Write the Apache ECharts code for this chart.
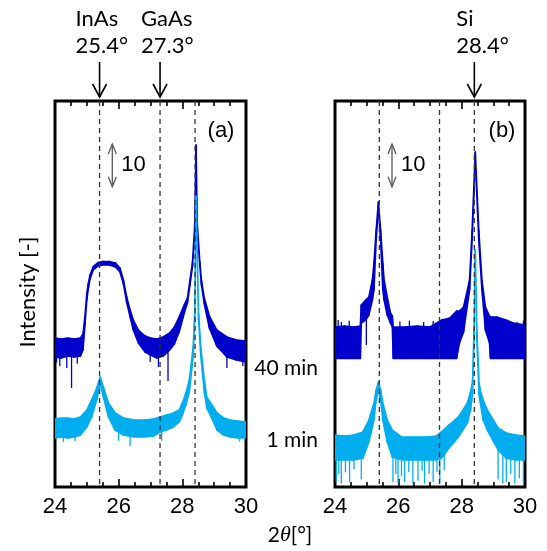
<!DOCTYPE html>
<html>
<head>
<meta charset="utf-8">
<script src="https://cdn.jsdelivr.net/npm/echarts@6/dist/echarts.min.js"></script>
<style>
  html, body { margin: 0; padding: 0; background: #fff; }
  #chart { width: 547px; height: 551px; }
</style>
</head>
<body>
<div id="chart"></div>
<script>
// ---- XRD scans, 2θ in degrees; intensities are the upper / lower edge of the noisy trace ----

// panel (a), 40 min
const a40X  = [24.0, 24.2, 24.4, 24.6, 24.8, 24.88, 24.94, 25.0, 25.05, 25.1, 25.2, 25.35, 25.5, 25.7, 25.9, 26.04, 26.15, 26.25, 26.36, 26.46, 26.62, 26.83, 27.0, 27.2, 27.4, 27.6, 27.75, 27.9, 28.07, 28.16, 28.24, 28.32, 28.39, 28.43, 28.47, 28.55, 28.6, 28.69, 28.85, 29.08, 29.4, 29.7, 30.0];
const a40Hi = [2980, 2820, 2980, 2820, 2980, 3690, 9350, 33400, 57100, 87700, 137000, 171000, 181000, 181000, 167000, 128000, 67000, 27400, 13400, 7830, 4580, 3320, 2980, 2820, 3140, 3900, 5370, 9200, 18500, 25500, 67000, 176000, 1280000, 94000000, 1280000, 176000, 67000, 25500, 9700, 4580, 3140, 2680, 2540];
const a40Lo = [1070, 1020, 1130, 1070, 1130, 1560, 5980, 22900, 43600, 70700, 115000, 142000, 150000, 150000, 135000, 103000, 54100, 20600, 9200, 4580, 2280, 1410, 1200, 1020, 1130, 1560, 2160, 4110, 12000, 19500, 51300, 142000, 881000, 64700000, 881000, 142000, 51300, 18500, 5100, 1940, 1070, 915, 821];
const a40SpikeX = [24.05, 24.15, 24.37, 24.52, 24.7, 26.99, 27.25, 27.55, 29.4, 29.9];
const a40SpikeY = [800, 663, 595, 203, 750, 821, 628, 296, 595, 663];

// panel (a), 1 min
const a1X  = [24.0, 24.2, 24.4, 24.6, 24.8, 25.0, 25.15, 25.31, 25.42, 25.52, 25.68, 25.89, 26.15, 26.5, 26.8, 27.1, 27.3, 27.5, 27.72, 27.9, 28.0, 28.11, 28.22, 28.34, 28.39, 28.43, 28.51, 28.58, 28.69, 28.77, 28.95, 29.09, 29.3, 29.5, 29.75, 30.0];
const a1Hi = [38.5, 40.6, 40.6, 38.5, 42.9, 62.4, 107, 203, 367, 215, 90.8, 53.1, 40.6, 36.5, 36.5, 38.5, 42.9, 47.7, 53.1, 62.4, 90.8, 155, 313, 1840, 11400, 6100000, 11400, 1840, 313, 125, 77.4, 53.1, 40.6, 36.5, 34.6, 32.8];
const a1Lo = [13.9, 14.7, 13.9, 14.7, 16.3, 25.1, 42.9, 107, 252, 125, 42.9, 21.3, 16.3, 14.7, 14.7, 15.5, 19.2, 21.3, 25.1, 32.8, 47.7, 81.6, 164, 1130, 7830, 3960000, 7830, 1130, 164, 69.5, 36.5, 21.3, 16.3, 14.7, 13.9, 13.9];
const a1SpikeX = [24.26, 24.63, 26.0, 26.36, 27.35, 29.8];
const a1SpikeY = [11.2, 11.8, 12, 9.0, 12, 11.5];

// panel (b), 40 min
const b40X  = [24.0, 24.3, 24.6, 24.8, 24.83, 24.97, 25.07, 25.18, 25.23, 25.3, 25.37, 25.44, 25.51, 25.55, 25.65, 25.75, 25.81, 25.84, 26.2, 26.6, 27.0, 27.37, 27.63, 27.84, 27.93, 28.06, 28.25, 28.33, 28.43, 28.54, 28.64, 28.75, 28.88, 28.91, 29.1, 29.4, 29.63, 30.0];
const b40Hi = [5370, 5670, 5370, 5670, 17500, 22900, 26900, 67000, 167000, 982000, 4410000, 982000, 167000, 67000, 26900, 11400, 9700, 5370, 5370, 5670, 5370, 7830, 8710, 12700, 12700, 15700, 67000, 982000, 64700000, 982000, 67000, 15700, 9700, 9200, 9200, 7830, 6660, 5980];
const b40Lo = [1000, 1000, 1000, 1000, 6660, 7830, 10200, 22900, 39200, 574000, 3200000, 574000, 39200, 22900, 10200, 6660, 5370, 1000, 1000, 1000, 1000, 1000, 1000, 1000, 2280, 4110, 39200, 574000, 42100000, 574000, 39200, 4580, 2280, 1000, 1000, 1000, 1000, 1000];
const b40SpikeX = [24.1, 24.2, 24.45, 24.99, 26.05, 26.35, 26.8, 27.1, 29.3, 29.75, 29.95];
const b40SpikeY = [7830, 7000, 7500, 2050, 7200, 7600, 7000, 7400, 8200, 7000, 7600];

// panel (b), 1 min
const b1X  = [24.0, 24.3, 24.6, 24.88, 25.07, 25.23, 25.3, 25.37, 25.44, 25.51, 25.65, 25.81, 26.1, 26.5, 26.9, 27.2, 27.36, 27.6, 27.9, 28.18, 28.28, 28.34, 28.39, 28.43, 28.48, 28.55, 28.6, 28.68, 28.81, 29.15, 29.41, 29.7, 30.0];
const b1Hi = [16.3, 15.5, 16.3, 19.2, 36.5, 90.8, 183, 281, 183, 90.8, 36.5, 21.3, 14.7, 14.7, 14.7, 15.5, 19.2, 27.9, 42.9, 90.8, 164, 266, 4580, 336000, 4580, 266, 164, 107, 62.4, 23.8, 18.2, 16.3, 15.5];
const b1Lo = [4.3, 4.3, 4.3, 4.7, 11.2, 36.5, 107, 183, 107, 36.5, 11.2, 5.0, 4.3, 4.3, 4.3, 4.3, 4.7, 8.1, 14.7, 31, 62.4, 140, 2680, 218000, 2680, 140, 81.6, 36.5, 21.3, 7.3, 4.7, 4.3, 4.3];
const b1SpikeX = [24.04, 24.12, 24.2, 24.33, 24.46, 24.6, 24.83, 25.83, 25.92, 25.99, 26.1, 26.2, 26.33, 26.46, 26.62, 26.75, 26.83, 26.97, 27.1, 27.22, 27.31, 27.45, 29.15, 29.3, 29.41, 29.55, 29.68, 29.82, 29.95];
const b1SpikeY = [1.3, 2.0, 1.2, 2.2, 1.3, 2.6, 1.5, 1.3, 2.0, 1.2, 1.8, 1.3, 2.2, 1.2, 1.4, 2.4, 1.2, 2.0, 1.3, 2.2, 1.2, 2.5, 1.5, 1.2, 1.3, 2.0, 1.2, 1.6, 1.2];

// reference peak positions
const refX      = [25.4, 27.3, 28.4];
const refNames  = ['InAs', 'GaAs', 'Si'];
const refLabels = ['25.4°', '27.3°', '28.4°'];
const refPanel  = [0, 0, 1];
const refTextShift = [24, 19, 18];

const xTicks = { min: 24, max: 30, interval: 2 };
const Y_MIN = 1, Y_MAX = 1e9;
const DARK = '#0000CC', LIGHT = '#00AEEF';

const chart = echarts.init(document.getElementById('chart'), null, { renderer: 'canvas' });

function edgeAt(xs, arr, x) {
  for (let i = 0; i < xs.length - 1; i++) {
    if (x >= xs[i] && x <= xs[i + 1]) {
      const t = (x - xs[i]) / (xs[i + 1] - xs[i]);
      return Math.pow(10, Math.log10(arr[i]) * (1 - t) + Math.log10(arr[i + 1]) * t);
    }
  }
  return arr[arr.length - 1];
}

function bandSeries(xi, yi, xs, hi, lo, color, z) {
  const rows = xs.map((x, i) => [x, lo[i], hi[i]]);
  return {
    type: 'custom', xAxisIndex: xi, yAxisIndex: yi, z: z, clip: true, silent: true,
    data: rows, encode: { x: 0, y: [1, 2] },
    renderItem(params, api) {
      const i = params.dataIndex;
      if (i >= rows.length - 1) return { type: 'group', children: [] };
      const a = rows[i], b = rows[i + 1];
      const pts = [api.coord([a[0], a[2]]), api.coord([b[0], b[2]]),
                   api.coord([b[0], b[1]]), api.coord([a[0], a[1]])];
      return {
        type: 'polygon', shape: { points: pts },
        style: { fill: color, stroke: color, lineWidth: 1.6, lineJoin: 'round' }
      };
    }
  };
}

function spikeSeries(xi, yi, xs, hi, lo, sx, sy, color, z) {
  return {
    type: 'custom', xAxisIndex: xi, yAxisIndex: yi, z: z, clip: true, silent: true,
    data: sx.map((x, i) => [x, sy[i]]), encode: { x: 0, y: 1 },
    renderItem(params, api) {
      const x = api.value(0), v = api.value(1);
      const low = edgeAt(xs, lo, x);
      const from = v < low ? low : edgeAt(xs, hi, x);
      const a = api.coord([x, from]), b = api.coord([x, v]);
      return {
        type: 'line', shape: { x1: a[0], y1: a[1], x2: b[0], y2: b[1] },
        style: { stroke: color, lineWidth: 1.3 }
      };
    }
  };
}

function refSeries(xi, yi) {
  return {
    type: 'custom', xAxisIndex: xi, yAxisIndex: yi, z: 10, clip: true, silent: true,
    data: refX.map(x => [x, Y_MIN, Y_MAX]), encode: { x: 0, y: [1, 2] },
    renderItem(params, api) {
      const x = api.value(0);
      const a = api.coord([x, Y_MAX]), b = api.coord([x, Y_MIN]);
      return {
        type: 'line', shape: { x1: a[0], y1: a[1], x2: b[0], y2: b[1] },
        style: { stroke: '#333', lineWidth: 1.3, lineDash: [5, 4] }
      };
    }
  };
}

function xAxisDef(gridIndex, position) {
  return {
    type: 'value', gridIndex: gridIndex, position: position,
    min: xTicks.min, max: xTicks.max, interval: xTicks.interval,
    axisLine: { show: false },
    splitLine: { show: false },
    axisTick: { show: true, inside: true, length: 8, lineStyle: { color: '#000', width: 1.6 } },
    minorTick: { show: true, splitNumber: 4, length: 5, lineStyle: { color: '#000', width: 1.6 } },
    axisLabel: {
      show: position === 'bottom', color: '#000', fontSize: 22,
      fontFamily: '"Liberation Sans", Arial, sans-serif', margin: 9
    }
  };
}

function yAxisDef(gridIndex) {
  return {
    type: 'log', logBase: 10, gridIndex: gridIndex, min: Y_MIN, max: Y_MAX,
    axisLine: { show: false }, axisTick: { show: false },
    axisLabel: { show: false }, splitLine: { show: false }
  };
}

const gridBox = { show: true, borderColor: '#000', borderWidth: 3, backgroundColor: 'transparent', top: 101, height: 386 };

chart.setOption({
  animation: false,
  grid: [
    Object.assign({ left: 55, width: 191 }, gridBox),
    Object.assign({ left: 335, width: 190 }, gridBox)
  ],
  xAxis: [xAxisDef(0, 'bottom'), xAxisDef(0, 'top'), xAxisDef(1, 'bottom'), xAxisDef(1, 'top')],
  yAxis: [yAxisDef(0), yAxisDef(1)],
  series: [
    bandSeries(0, 0, a40X, a40Hi, a40Lo, DARK, 2),
    spikeSeries(0, 0, a40X, a40Hi, a40Lo, a40SpikeX, a40SpikeY, DARK, 2),
    bandSeries(0, 0, a1X, a1Hi, a1Lo, LIGHT, 3),
    spikeSeries(0, 0, a1X, a1Hi, a1Lo, a1SpikeX, a1SpikeY, LIGHT, 3),
    refSeries(0, 0),
    bandSeries(2, 1, b40X, b40Hi, b40Lo, DARK, 2),
    spikeSeries(2, 1, b40X, b40Hi, b40Lo, b40SpikeX, b40SpikeY, DARK, 2),
    bandSeries(2, 1, b1X, b1Hi, b1Lo, LIGHT, 3),
    spikeSeries(2, 1, b1X, b1Hi, b1Lo, b1SpikeX, b1SpikeY, LIGHT, 3),
    refSeries(2, 1)
  ]
});

// ---- annotations placed through the axes ----
const panels = [[0, 0], [2, 1]];
function toPx(p, x, y) {
  return chart.convertToPixel({ xAxisIndex: panels[p][0], yAxisIndex: panels[p][1] }, [x, y]);
}
const SANS = '"Liberation Sans", Arial, sans-serif';
const LABEL = 'Lato, "Open Sans", sans-serif';
const g = [];

function text(x, y, str, font, align, extra) {
  return Object.assign({
    type: 'text', x: x, y: y, silent: true,
    style: { text: str, font: font, fill: '#000', align: align, textAlign: align,
             verticalAlign: 'middle', textVerticalAlign: 'middle' }
  }, extra || {});
}

// element / peak markers above the panels
refX.forEach((x, k) => {
  const p = toPx(refPanel[k], x, Y_MAX);
  const cx = p[0];
  g.push({ type: 'polyline', silent: true, shape: { points: [[cx, 62], [cx, 97]] },
           style: { stroke: '#000', lineWidth: 1.6, fill: null } });
  g.push({ type: 'polyline', silent: true, shape: { points: [[cx - 7, 84], [cx, 97], [cx + 7, 84]] },
           style: { stroke: '#000', lineWidth: 1.6, fill: null } });
  g.push(text(cx - refTextShift[k], 19, refNames[k], '22px ' + LABEL, 'left'));
  g.push(text(cx - refTextShift[k], 46, refLabels[k], '22px ' + LABEL, 'left'));
});

// factor-of-ten scale arrows
[0, 1].forEach(p => {
  const top = toPx(p, 25.8, 1e8), bot = toPx(p, 25.8, 1e7);
  const cx = top[0];
  const st = { stroke: '#595959', lineWidth: 1.3, fill: null };
  g.push({ type: 'polyline', silent: true, shape: { points: [[cx, top[1]], [cx, bot[1]]] }, style: st });
  g.push({ type: 'polyline', silent: true, shape: { points: [[cx - 4, top[1] + 10], [cx, top[1]], [cx + 4, top[1] + 10]] }, style: st });
  g.push({ type: 'polyline', silent: true, shape: { points: [[cx - 4, bot[1] - 10], [cx, bot[1]], [cx + 4, bot[1] - 10]] }, style: st });
  g.push(text(cx + 9, (top[1] + bot[1]) / 2, '10', '22px ' + SANS, 'left'));
});

// panel tags
g.push(text(221, 131, '(a)', '22px ' + SANS, 'center'));
g.push(text(502, 131, '(b)', '22px ' + SANS, 'center'));

// trace labels
g.push(text(318, 368, '40 min', '21px ' + LABEL, 'right'));
g.push(text(318, 440, '1 min', '21px ' + LABEL, 'right'));

// axis titles
g.push(text(28, 292, 'Intensity [-]', '22px ' + LABEL, 'center', { rotation: Math.PI / 2 }));
g.push({
  type: 'text', x: 290, y: 535, silent: true,
  style: {
    text: '{n|2}{t|θ}{n|[°]}', align: 'center', textAlign: 'center',
    verticalAlign: 'middle', textVerticalAlign: 'middle', fill: '#000',
    rich: {
      n: { font: '21px ' + LABEL, fill: '#000' },
      t: { font: 'italic 22px "Liberation Serif", "DejaVu Serif", serif', fill: '#000' }
    }
  }
});

chart.setOption({ graphic: { elements: g } });
</script>
</body>
</html>
